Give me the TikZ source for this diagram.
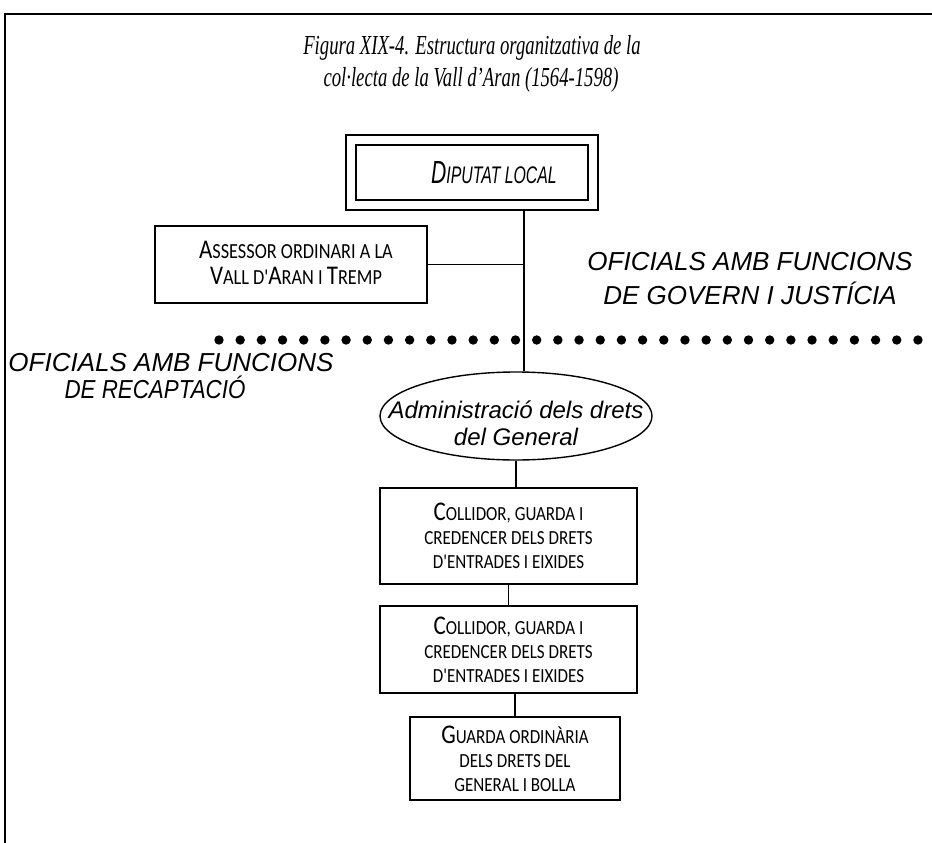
\documentclass[tikz,border=0pt]{standalone}
\usepackage{fontspec}
\setmainfont[FakeStretch=0.68]{Liberation Serif}
\newfontfamily\labf{Liberation Sans}
\newfontfamily\boxf[FakeStretch=0.85]{Carlito}
\newfontfamily\dipf[FakeStretch=0.66]{Liberation Sans}
\usetikzlibrary{shapes.geometric}
\newcommand{\Bg}[1]{{\fontsize{27}{24}\selectfont #1}}
\newcommand{\Ag}[1]{{\fontsize{27}{24}\selectfont #1}}
\newcommand{\Dg}[1]{{\fontsize{32}{32}\selectfont #1}}
\tikzset{
  ln/.style={line width=1.4pt},
  orgbox/.style={draw, line width=1.4pt, inner sep=0pt, align=center,
     font=\boxf\fontsize{20}{24}\selectfont},
  lab/.style={font=\labf\itshape\fontsize{26}{30}\selectfont, inner sep=0pt},
  ttl/.style={font=\itshape\fontsize{27.5}{30}\selectfont, inner sep=0pt}
}
\begin{document}
\begin{tikzpicture}[x=1pt,y=-1pt]
\useasboundingbox (0,0) rectangle (932,843);
% frame
\coordinate (fl) at (5,843);
\coordinate (fc) at (5,14);
\coordinate (fr) at (932,14);
\draw[line width=1.5pt] (fl) -- (fc) -- (fr);
% title
\node[ttl] (t1) at (472,48) {Figura XIX-4. Estructura organitzativa de la};
\node[ttl] (t2) at (471,80) {col·lecta de la Vall d'Aran (1564-1598)};
% diputat
\node[draw, ln, minimum width=252pt, minimum height=75pt, inner sep=0pt] (dipo) at (472,172.5) {};
\node[draw, ln, minimum width=232pt, minimum height=55pt, inner sep=0pt] (dip) at (472,172.5) {};
\node[inner sep=0pt, font=\dipf\itshape\fontsize{24}{24}\selectfont] (dipt) at (494,172.5) {\Dg{D}IPUTAT LOCAL};
\coordinate (vx) at (524,0);
% assessor
\node[orgbox, minimum width=272pt, minimum height=77pt] (ass) at (291,264.5) {};
\node[inner sep=0pt, font=\boxf\fontsize{21.5}{24}\selectfont] (ass1) at (296,250) {\Ag{A}SSESSOR ORDINARI A LA};
\node[inner sep=0pt, font=\boxf\fontsize{21.5}{24}\selectfont] (ass2) at (296,276) {\Ag{V}ALL D'\Ag{A}RAN I \Ag{T}REMP};
% labels
\node[lab] (r1) at (750,262) {OFICIALS AMB FUNCIONS};
\node[lab] (r2) at (750,293) {DE GOVERN I JUSTÍCIA};
\node[lab] (l1) at (171,363) {OFICIALS AMB FUNCIONS};
\node[lab] (l2) at (155,387) {\scalebox{0.86}[1]{DE RECAPTACIÓ}};
% dots
\foreach \i in {0,...,33} \fill (219+\i*21.18,340) circle (4.7pt);
% ellipse
\node[draw, ln, ellipse, minimum width=272pt, minimum height=88pt, inner sep=0pt] (ell) at (516,416) {};
\node[align=center, inner sep=0pt, font=\labf\itshape\fontsize{24}{27}\selectfont] (ellt) at (516,423)
  {Administració dels drets\\del General};
% boxes
\node[orgbox, minimum width=257pt, minimum height=96pt] (c1) at (508.5,536)
  {\Bg{C}OLLIDOR, GUARDA I\\CREDENCER DELS DRETS\\D'ENTRADES I EIXIDES};
\node[orgbox, minimum width=257pt, minimum height=87pt] (c2) at (508.5,649.5)
  {\Bg{C}OLLIDOR, GUARDA I\\CREDENCER DELS DRETS\\D'ENTRADES I EIXIDES};
\node[orgbox, minimum width=210pt, minimum height=83pt] (g) at (515,758.5)
  {\Bg{G}UARDA ORDINÀRIA\\DELS DRETS DEL\\GENERAL I BOLLA};
% connectors
\draw[ln] (vx |- dipo.south) -- (vx |- ell.north);
\draw[ln] (ass.east) -- (ass.east -| vx);
\draw[ln] (ell.south) -- (ell.south |- c1.north);
\draw[ln] (c1.south) -- (c2.north);
\draw[ln] (g.north |- c2.south) -- (g.north);
\end{tikzpicture}
\end{document}
